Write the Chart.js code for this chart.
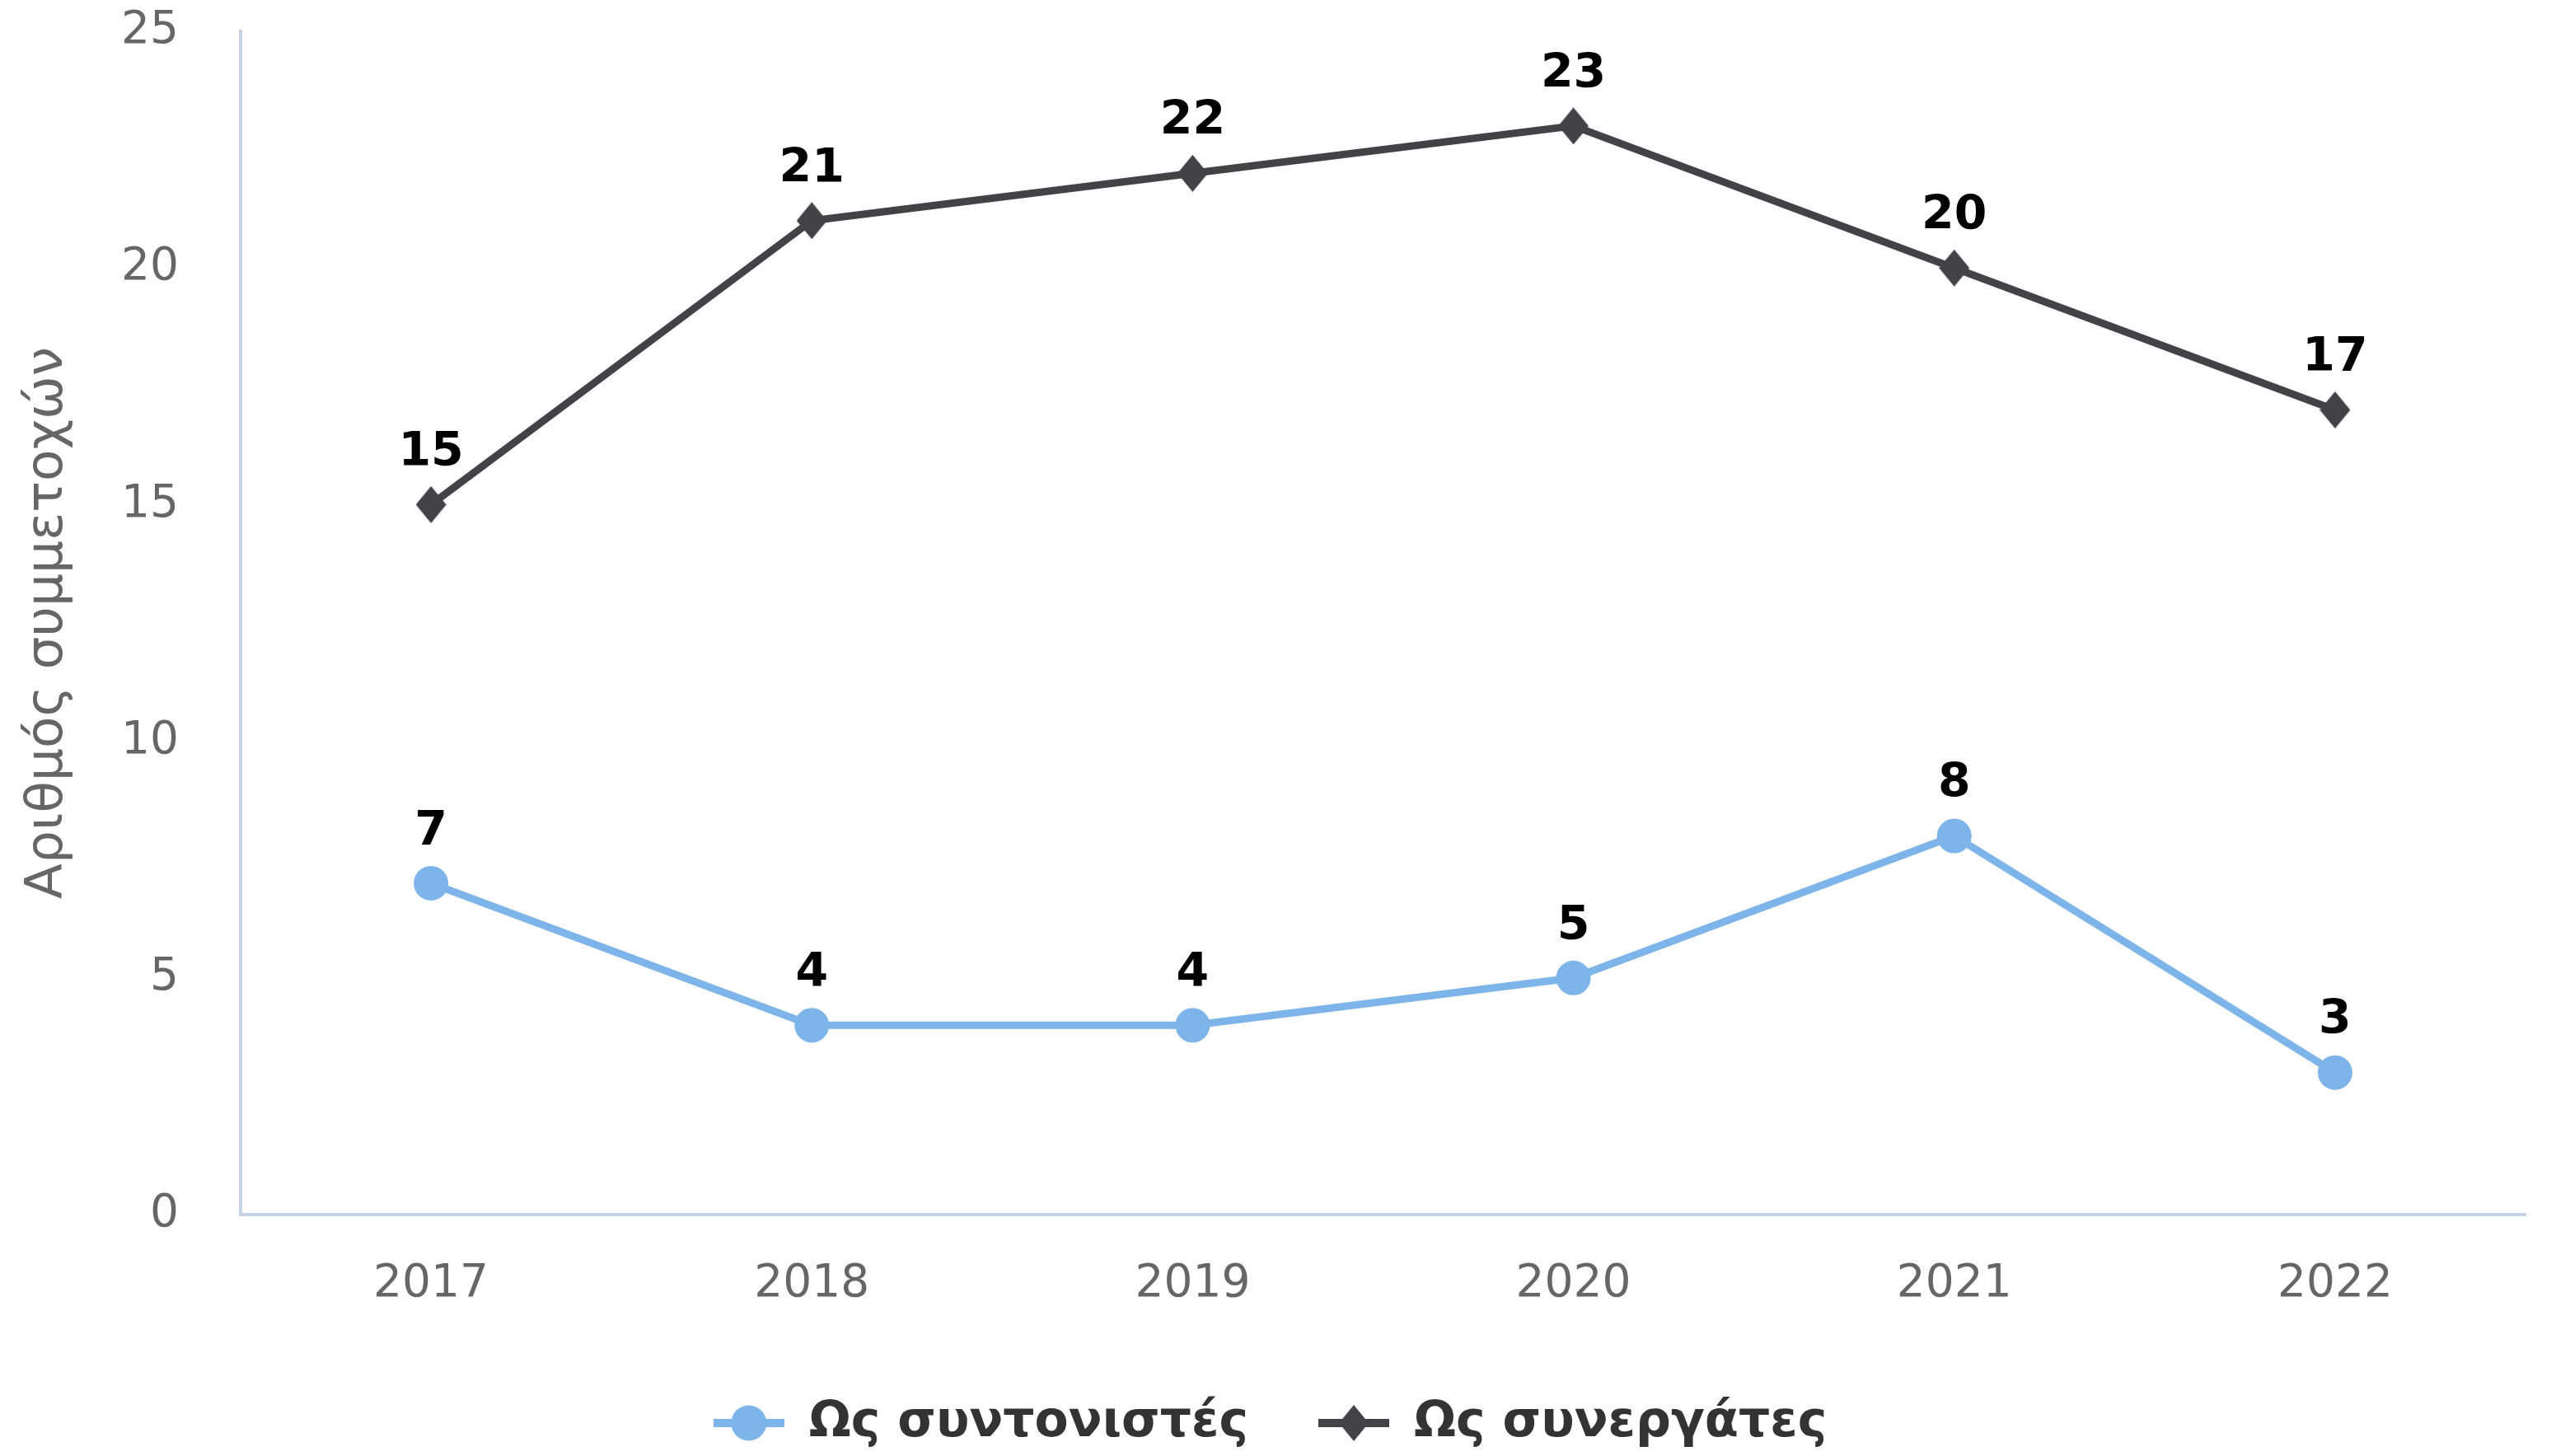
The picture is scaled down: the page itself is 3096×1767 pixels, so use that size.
<!DOCTYPE html>
<html>
<head>
<meta charset="utf-8">
<script src="https://cdn.jsdelivr.net/npm/chart.js@4.4.0/dist/chart.umd.min.js"></script>
<style>
  html, body { margin: 0; padding: 0; background: #fff; }
  canvas { display: block; }
</style>
</head>
<body>
<canvas id="chart" width="3096" height="1767"></canvas>
<script>
// data
const years = ["2017", "2018", "2019", "2020", "2021", "2022"];
const coordinators = [7, 4, 4, 5, 8, 3];
const partners = [15, 21, 22, 23, 20, 17];
const seriesNames = ["Ως συντονιστές", "Ως συνεργάτες"];
const yTicks = [0, 5, 10, 15, 20, 25];

const blue = "#7db4ea";
const dark = "#434347";
const axisColor = "#c6d4e6";

// diamond marker as a small canvas (a bit taller than wide)
function diamond(w, h, color) {
  const c = document.createElement("canvas");
  c.width = w; c.height = h;
  const g = c.getContext("2d");
  g.fillStyle = color;
  g.beginPath();
  g.moveTo(w / 2, 0);
  g.lineTo(w, h / 2);
  g.lineTo(w / 2, h);
  g.lineTo(0, h / 2);
  g.closePath();
  g.fill();
  return c;
}

// legend symbol: line with the marker on it
function legendIcon(kind, color) {
  const c = document.createElement("canvas");
  c.width = 86; c.height = 46;
  const g = c.getContext("2d");
  g.fillStyle = color;
  g.fillRect(0, 18, 86, 10);
  if (kind == "circle") {
    g.beginPath();
    g.arc(43, 23, 21.5, 0, Math.PI * 2);
    g.fill();
  } else {
    g.drawImage(diamond(36, 44, color), 25, 1);
  }
  return c;
}

const diamondImg = diamond(37, 45, dark);

// value labels above every point
const valueLabels = {
  id: "valueLabels",
  afterDatasetsDraw(chart) {
    const ctx = chart.ctx;
    ctx.save();
    ctx.font = 'bold 57px "DejaVu Sans"';
    ctx.fillStyle = "#000";
    ctx.textAlign = "center";
    ctx.textBaseline = "middle";
    chart.data.datasets.forEach((ds, i) => {
      chart.getDatasetMeta(i).data.forEach((pt, j) => {
        ctx.fillText(ds.data[j], pt.x, pt.y - 62);
      });
    });
    ctx.restore();
  }
};

Chart.defaults.font.family = '"DejaVu Sans"';

new Chart(document.getElementById("chart"), {
  type: "line",
  data: {
    labels: years,
    datasets: [
      {
        label: seriesNames[0],
        data: coordinators,
        borderColor: blue,
        backgroundColor: blue,
        borderWidth: 9,
        pointStyle: "circle",
        pointRadius: 21,
        pointBorderWidth: 0,
        legendIcon: legendIcon("circle", blue)
      },
      {
        label: seriesNames[1],
        data: partners,
        borderColor: dark,
        backgroundColor: dark,
        borderWidth: 9,
        pointStyle: diamondImg,
        pointRadius: 22,
        legendIcon: legendIcon("diamond", dark)
      }
    ]
  },
  options: {
    responsive: false,
    animation: false,
    devicePixelRatio: 1,
    layout: { padding: { top: 38, right: 13, bottom: 0, left: 0 } },
    plugins: {
      tooltip: { enabled: false },
      legend: {
        position: "bottom",
        labels: {
          usePointStyle: true,
          pointStyleWidth: 86,
          boxHeight: 46,
          padding: 85,
          color: "#333333",
          font: { size: 60, weight: "bold" },
          generateLabels(chart) {
            return chart.data.datasets.map((ds, i) => ({
              text: ds.label,
              pointStyle: ds.legendIcon,
              fontColor: "#333333",
              datasetIndex: i,
              lineWidth: 0
            }));
          }
        }
      }
    },
    scales: {
      x: {
        offset: true,
        afterFit(scale) { scale.height = scale.height - 32; },
        grid: { display: false, drawTicks: false },
        border: { display: true, color: axisColor, width: 4 },
        ticks: { color: "#666666", font: { size: 55 }, padding: 52 }
      },
      y: {
        min: 0,
        max: 25,
        afterFit(scale) {
          scale.width = 292;
          // don't let the big label padding push the plot area
          scale.paddingTop = 0;
          scale.paddingBottom = 0;
        },
        afterBuildTicks(scale) { scale.ticks = yTicks.map(v => ({ value: v })); },
        grid: { display: false, drawTicks: false },
        border: { display: true, color: axisColor, width: 4 },
        ticks: { color: "#666666", font: { size: 55 }, padding: 75 },
        title: {
          display: true,
          text: "Αριθμός συμμετοχών",
          color: "#666666",
          font: { size: 63 },
          padding: { top: 21, bottom: 10 }
        }
      }
    }
  },
  plugins: [valueLabels]
});
</script>
</body>
</html>
